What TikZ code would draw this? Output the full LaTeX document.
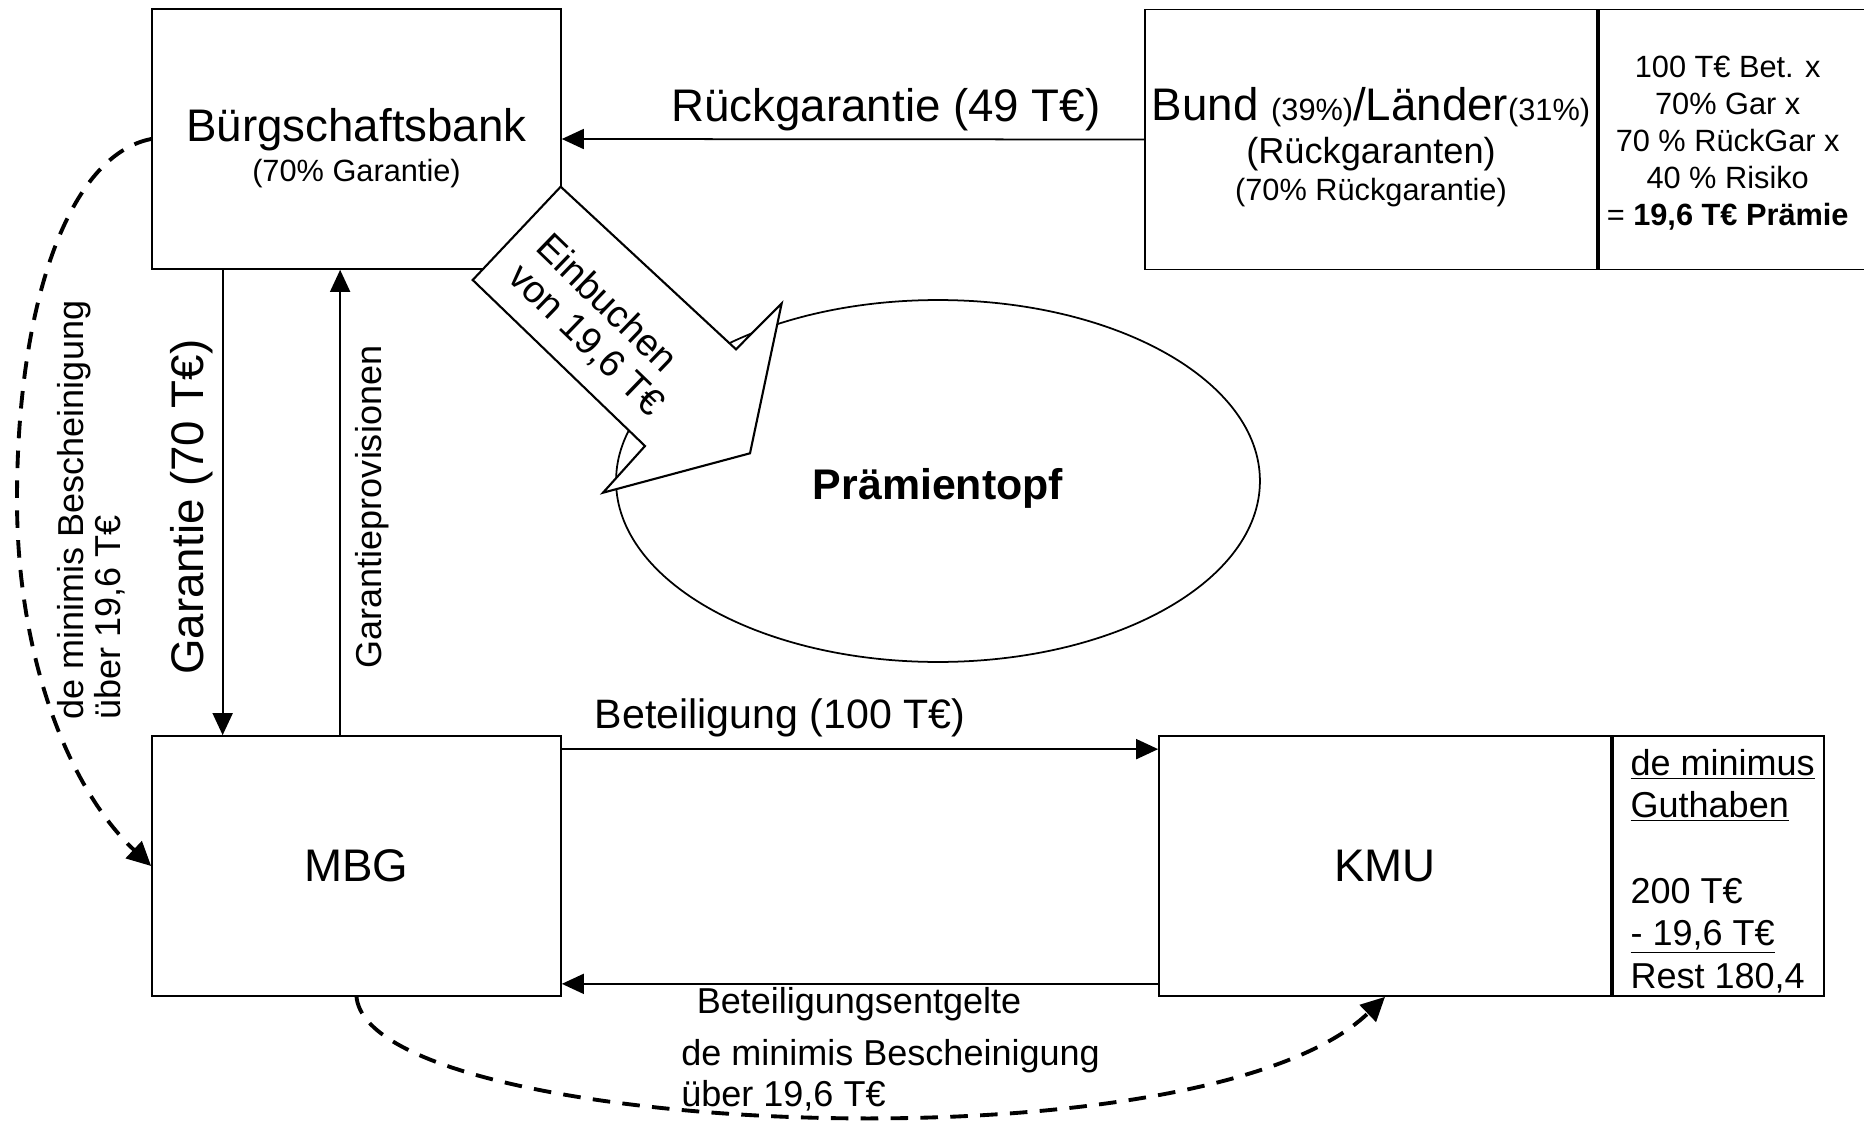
\documentclass[tikz,border=0pt]{standalone}
\usepackage{fontspec}
\setmainfont{Liberation Sans}
\usetikzlibrary{shapes.geometric, arrows.meta, positioning}

\newcommand{\kleinschrift}{\fontsize{17.5}{20}\selectfont}
\newcommand{\mittelschrift}{\fontsize{20.5}{24}\selectfont}

\tikzset{
  box/.style={draw, line width=1pt, minimum width=8.18cm, minimum height=5.2cm, inner sep=0pt},
  pfeil/.style={line width=1pt, -{Triangle[length=0.44cm, width=0.4cm]}},
  bescheinigung/.style={line width=2.2pt, dash pattern=on 10pt off 7pt, -{Triangle[length=0.48cm, width=0.46cm]}},
  gross/.style={font=\fontsize{26}{31}\selectfont},
  beschriftung/.style={inner sep=0pt}
}

\begin{document}
\begin{tikzpicture}[x=0.02cm, y=-0.02cm]
\useasboundingbox (0,0) rectangle (1864,1122);

% Kaesten
\node[box] (bb) at (356.5,139) {};
\node[box, minimum width=9.04cm] (bund) at (1371,139.5) {};
\node[box, minimum width=5.38cm, right=0pt of bund] (praemie) {};
\node[box, gross] (mbg) at (356.5,866) {MBG};
\node[box, gross, minimum width=9.04cm] (kmu) at (1385,866) {KMU};
\node[box, minimum width=4.22cm, right=0pt of kmu] (guthaben) {};
\node[draw, ellipse, line width=1pt, minimum width=12.88cm, minimum height=7.24cm] (topf) at (938,481) {};

% Texte in den Kaesten
\node[beschriftung, align=center, font=\fontsize{26}{22.5}\selectfont] (bbtext) at ([yshift=-0.18cm]bb.center)
  {Bürgschaftsbank\\{\kleinschrift (70\% Garantie)}};
\node[beschriftung, align=center, font=\fontsize{26}{20.8}\selectfont] (bundtext) at ([yshift=-0.15cm]bund.center)
  {Bund {\kleinschrift(39\%)}/Länder{\kleinschrift(31\%)}\\[3.7pt]{\fontsize{20.6}{24}\selectfont (Rückgaranten)}\\{\kleinschrift (70\% Rückgarantie)}};
\node[beschriftung, align=center, font=\fontsize{17.5}{21}\selectfont] (praemietext) at ([xshift=-0.11cm, yshift=-0.07cm]praemie.center)
  {100 T€ Bet. x\\70\% Gar x\\70 \% RückGar x\\40 \% Risiko\\= \textbf{19,6 T€ Prämie}};
\node[beschriftung, align=left, font=\fontsize{20.5}{24.2}\selectfont] (guthabentext) at ([xshift=0.09cm, yshift=-0.1cm]guthaben.center)
  {\underline{de minimus}\\\underline{Guthaben}\\[24.3pt]200 T€\\\underline{- 19,6 T€}\\Rest 180,4};
\node[beschriftung, font=\bfseries\fontsize{24.4}{29}\selectfont] (topftext) at ([yshift=-0.14cm]topf.center) {Prämientopf};

% Einbuchungspfeil
\draw[line width=1.2pt, fill=white] (560.7,186.7) -- (472.7,280) -- (645,446) -- (603,492.7)
  -- (750,453.3) -- (781.7,303.3) -- (736,349.3) -- cycle;
\node[beschriftung, rotate=-44, align=left, font=\fontsize{21.6}{23}\selectfont] (einbuchen) at (600,326) {Einbuchen\\von 19,6 T€};

% Verbindungen
\draw[pfeil] (bund.west) -- (bb.east);
\draw[pfeil] ([xshift=1.43cm]bb.south west) -- ([xshift=1.43cm]mbg.north west);
\draw[pfeil] ([xshift=3.78cm]mbg.north west) -- ([xshift=3.78cm]bb.south west);
\draw[pfeil] ([yshift=-0.28cm]mbg.north east) -- ([yshift=-0.28cm]kmu.north west);
\draw[pfeil] ([yshift=0.26cm]kmu.south west) -- ([yshift=0.26cm]mbg.south east);
\draw[bescheinigung] (bb.west) .. controls (70,155) and (17,300) .. (17,500)
  .. controls (17,660) and (70,790) .. (mbg.west);
\draw[bescheinigung] (mbg.south) .. controls (370,1135) and (1200,1175) .. (kmu.south);

% Beschriftungen
\node[gross, beschriftung] (rueckgarantie) at (886,110) {Rückgarantie (49 T€)};
\node[gross, beschriftung, rotate=90] (garantie) at (192,507) {Garantie (70 T€)};
\node[beschriftung, font=\mittelschrift, rotate=90] (provisionen) at (372,507) {Garantieprovisionen};
\node[beschriftung, rotate=90, align=left, font=\fontsize{20.5}{21}\selectfont] (bescheinigunglinks) at (91,510)
  {de minimis Bescheinigung\\über 19,6 T€};
\node[beschriftung, font=\fontsize{23.4}{28}\selectfont] (beteiligung) at (780,718) {Beteiligung (100 T€)};
\node[beschriftung, font=\mittelschrift] (entgelte) at (859,1004) {Beteiligungsentgelte};
\node[beschriftung, anchor=west, align=left, font=\fontsize{20.5}{23.3}\selectfont] (bescheinigungunten) at (681,1075)
  {de minimis Bescheinigung\\über 19,6 T€};
\end{tikzpicture}
\end{document}
